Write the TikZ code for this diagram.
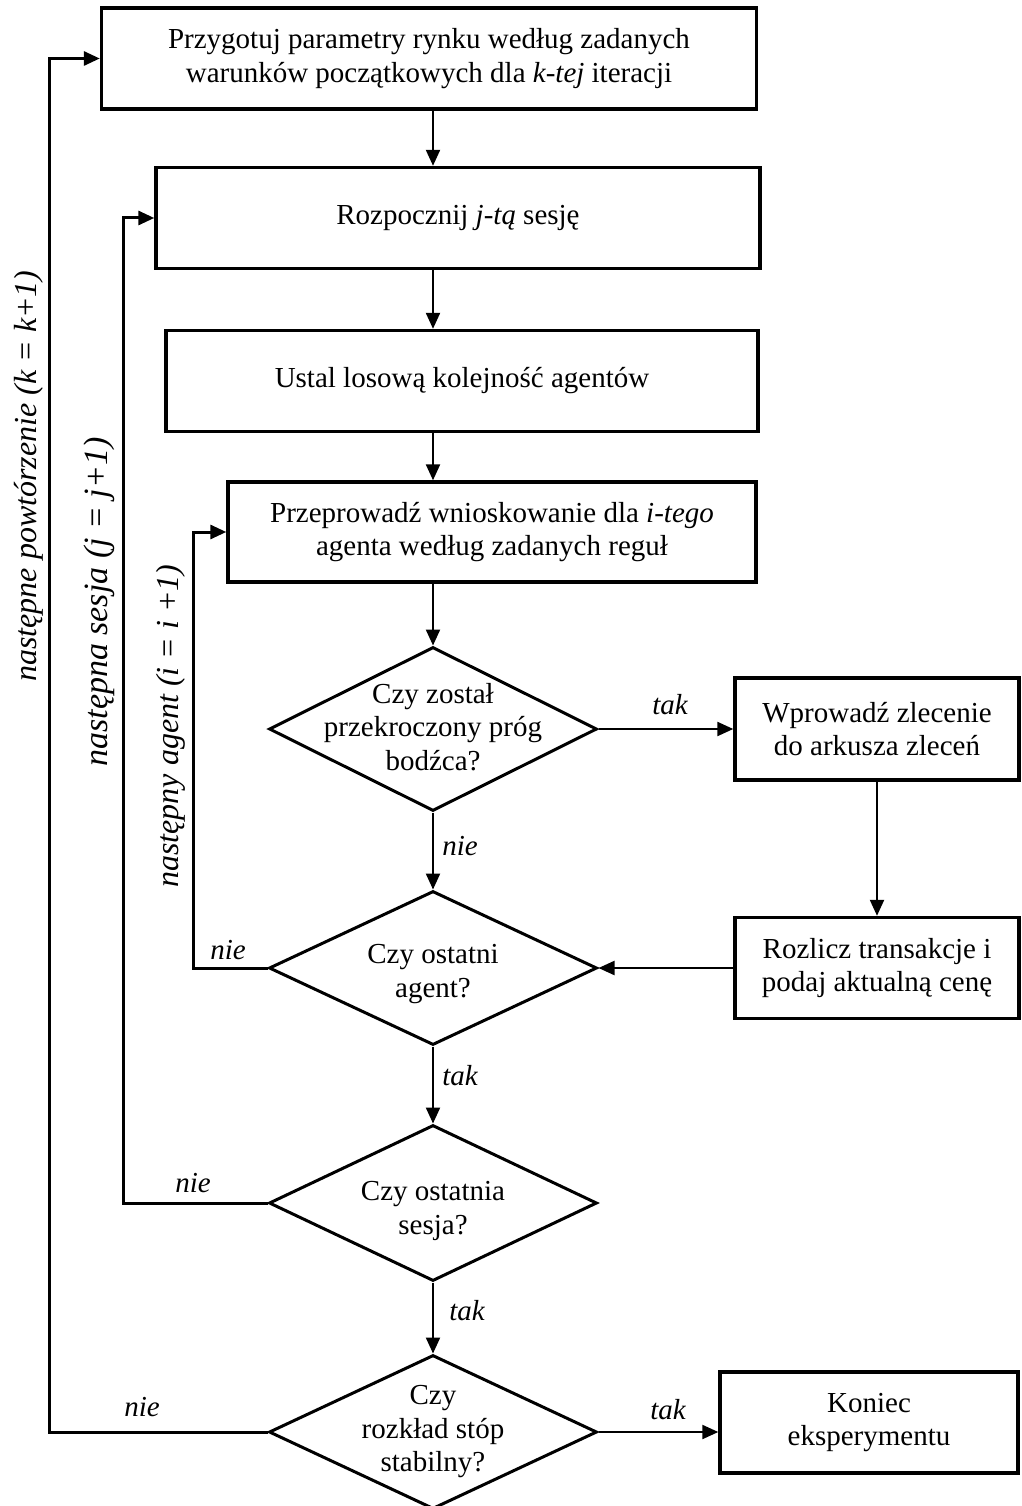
\documentclass[tikz,border=0pt]{standalone}
\usepackage{fontspec}
\setmainfont{Liberation Serif}
\usetikzlibrary{shapes.geometric,arrows.meta,calc}
\begin{document}
\begin{tikzpicture}[x=1pt,y=-1pt,
  every node/.style={font=\fontsize{29}{33.5}\selectfont},
  box/.style={draw,line width=3.4pt,inner sep=0pt,align=center},
  dec/.style={draw,diamond,line width=3pt,inner sep=0pt,minimum width=328pt},
  dtext/.style={align=center,inner sep=0pt},
  arr/.style={line width=2.2pt,-{Triangle[length=16pt,width=14pt]}},
  loop/.style={line width=3pt,-{Triangle[length=16pt,width=14pt]}},
  lbl/.style={font=\fontsize{29}{33.5}\selectfont\itshape},
  side/.style={font=\fontsize{32}{36}\selectfont\itshape,rotate=90},
]
\useasboundingbox (0,0) rectangle (1021,1506);

% boxes
\node[box,minimum width=655pt,minimum height=101pt] (b1) at (429,58.5)
  {Przygotuj parametry rynku według zadanych\\warunków początkowych dla \textit{k-tej} iteracji};
\node[box,minimum width=604pt,minimum height=101pt] (b2) at (458,218)
  {Rozpocznij \textit{j-tą} sesję};
\node[box,minimum width=592pt,minimum height=101pt] (b3) at (462,381)
  {Ustal losową kolejność agentów};
\node[box,minimum width=528pt,minimum height=100pt] (b4) at (492,532)
  {Przeprowadź wnioskowanie dla \textit{i-tego}\\agenta według zadanych reguł};
\node[box,minimum width=284pt,minimum height=102pt] (b5) at (877,729)
  {Wprowadź zlecenie\\do arkusza zleceń};
\node[box,minimum width=284pt,minimum height=101pt] (b6) at (877,968)
  {Rozlicz transakcje i\\podaj aktualną cenę};
\node[box,minimum width=298pt,minimum height=101pt] (b7) at (869,1422.5)
  {Koniec\\eksperymentu};

% decisions
\node[dec,minimum height=164pt] (d1) at (433,729) {};
\node[dtext] (d1t) at (433,727) {Czy został\\przekroczony próg\\bodźca?};
\node[dec,minimum height=154pt] (d2) at (433,968) {};
\node[dtext] (d2t) at (433,974) {Czy ostatni\\agent?};
\node[dec,minimum height=156pt] (d3) at (433,1203) {};
\node[dtext] (d3t) at (433,1211) {Czy ostatnia\\sesja?};
\node[dec,minimum height=154pt] (d4) at (433,1432) {};
\node[dtext] (d4t) at (433,1432) {Czy\\rozkład stóp\\stabilny?};

% loop columns
\coordinate (o1) at (49,0);
\coordinate (o2) at (123,0);
\coordinate (o3) at (193,0);

% main flow
\draw[arr] (b1.south -| d1) -- (b2.north -| d1);
\draw[arr] (b2.south -| d1) -- (b3.north -| d1);
\draw[arr] (b3.south -| d1) -- (b4.north -| d1);
\draw[arr] (b4.south -| d1) -- (d1.north);
\draw[arr] (d1.south) -- (d2.north);
\draw[arr] (d2.south) -- (d3.north);
\draw[arr] (d3.south) -- (d4.north);
\draw[arr] (d1.east) -- (b5.west);
\draw[arr] (b5.south) -- (b6.north);
\draw[arr] (b6.west) -- (d2.east);
\draw[arr] (d4.east) -- (d4.east -| b7.west);

% loops
\draw[loop] (d4.west) -- (d4.west -| o1) |- (b1.west);
\draw[loop] (d3.west) -- (d3.west -| o2) |- (b2.west);
\draw[loop] (d2.west) -- (d2.west -| o3) |- (b4.west);

% branch labels
\node[lbl] (t1) at (670,705) {tak};
\node[lbl] (n1) at (460,846) {nie};
\node[lbl] (n2) at (228,950) {nie};
\node[lbl] (t2) at (460,1076) {tak};
\node[lbl] (n3) at (193,1183) {nie};
\node[lbl] (t3) at (467,1311) {tak};
\node[lbl] (n4) at (142,1407) {nie};
\node[lbl] (t4) at (668,1410) {tak};

% loop labels
\node[side] (s1) at (29,476) {następne powtórzenie (k = k+1)};
\node[side,font=\fontsize{34}{38}\selectfont\itshape] (s2) at (99,602) {następna sesja (j = j+1)};
\node[side] (s3) at (171,726) {następny agent (i = i +1)};
\end{tikzpicture}
\end{document}
